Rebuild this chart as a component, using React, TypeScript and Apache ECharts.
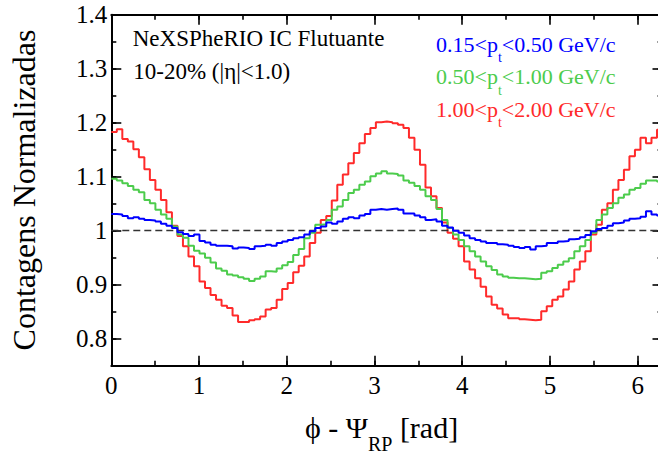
import React, { useEffect, useRef } from 'react';
import * as echarts from 'echarts';

const SERIF = 'Liberation Serif, DejaVu Serif, serif';

const BIN_COUNT = 100;
const PHI_MAX = 2 * Math.PI;
const binEdges = Array.from({ length: BIN_COUNT + 1 }, (_, i) => (i * PHI_MAX) / BIN_COUNT);

const xTickLabels = ['0', '1', '2', '3', '4', '5', '6'];
const yTickLabels = ['0.8', '0.9', '1', '1.1', '1.2', '1.3', '1.4'];

// 1.00 < pt < 2.00 GeV/c
const redValues = [
  1.183, 1.188, 1.170, 1.165, 1.151, 1.136, 1.114, 1.094, 1.076, 1.057,
  1.034, 1.009, 0.990, 0.971, 0.952, 0.934, 0.906, 0.894, 0.881, 0.872,
  0.861, 0.857, 0.843, 0.831, 0.831, 0.834, 0.836, 0.841, 0.854, 0.857,
  0.872, 0.892, 0.903, 0.923, 0.935, 0.952, 0.977, 0.996, 1.020, 1.027,
  1.056, 1.085, 1.104, 1.125, 1.144, 1.162, 1.179, 1.190, 1.201, 1.202,
  1.201, 1.199, 1.196, 1.190, 1.172, 1.150, 1.122, 1.080, 1.064, 1.042,
  1.015, 0.996, 0.985, 0.971, 0.943, 0.928, 0.912, 0.896, 0.878, 0.863,
  0.856, 0.845, 0.838, 0.838, 0.836, 0.835, 0.834, 0.835, 0.851, 0.860,
  0.872, 0.878, 0.891, 0.906, 0.928, 0.943, 0.962, 0.993, 1.011, 1.039,
  1.051, 1.076, 1.094, 1.113, 1.138, 1.150, 1.172, 1.162, 1.172, 1.187,
];

// 0.50 < pt < 1.00 GeV/c
const greenValues = [
  1.096, 1.093, 1.088, 1.083, 1.076, 1.071, 1.057, 1.051, 1.039, 1.030,
  1.022, 1.008, 0.993, 0.987, 0.972, 0.963, 0.958, 0.950, 0.941, 0.930,
  0.926, 0.919, 0.917, 0.914, 0.911, 0.907, 0.911, 0.915, 0.925, 0.924,
  0.930, 0.936, 0.942, 0.955, 0.966, 0.986, 0.996, 1.011, 1.012, 1.020,
  1.039, 1.045, 1.057, 1.070, 1.076, 1.085, 1.091, 1.101, 1.106, 1.110,
  1.106, 1.105, 1.102, 1.093, 1.089, 1.083, 1.076, 1.064, 1.057, 1.040,
  1.020, 1.005, 0.993, 0.983, 0.971, 0.962, 0.952, 0.943, 0.934, 0.927,
  0.919, 0.915, 0.913, 0.912, 0.912, 0.911, 0.910, 0.911, 0.922, 0.925,
  0.931, 0.937, 0.943, 0.949, 0.962, 0.971, 0.983, 0.996, 1.020, 1.030,
  1.042, 1.051, 1.061, 1.067, 1.076, 1.079, 1.087, 1.093, 1.093, 1.091,
];

// 0.15 < pt < 0.50 GeV/c
const blueValues = [
  1.031, 1.030, 1.027, 1.023, 1.025, 1.022, 1.020, 1.019, 1.017, 1.013,
  1.009, 1.005, 0.997, 0.994, 0.990, 0.993, 0.981, 0.978, 0.974, 0.972,
  0.972, 0.971, 0.967, 0.969, 0.968, 0.966, 0.971, 0.972, 0.974, 0.972,
  0.977, 0.980, 0.983, 0.986, 0.988, 0.993, 0.999, 1.005, 1.008, 1.015,
  1.013, 1.017, 1.022, 1.025, 1.023, 1.028, 1.031, 1.039, 1.040, 1.039,
  1.040, 1.041, 1.039, 1.032, 1.032, 1.028, 1.025, 1.020, 1.021, 1.017,
  1.009, 1.006, 1.000, 0.996, 0.991, 0.986, 0.983, 0.980, 0.977, 0.977,
  0.975, 0.974, 0.972, 0.970, 0.968, 0.970, 0.965, 0.971, 0.972, 0.977,
  0.977, 0.980, 0.981, 0.984, 0.985, 0.988, 0.992, 0.999, 1.003, 1.005,
  1.009, 1.014, 1.015, 1.019, 1.022, 1.023, 1.026, 1.036, 1.030, 1.028,
];

const seriesNames = ['1.00<pt<2.00', '0.50<pt<1.00', '0.15<pt<0.50'];
const seriesColors = ['#ff2a2a', '#4ccc4c', '#0000ff'];
const legendLo = ['0.15', '0.50', '1.00'];
const legendHi = ['0.50', '1.00', '2.00'];
const legendColors = ['#0000ff', '#4ccc4c', '#ff2a2a'];

const toStep = (vals: number[]) => [
  ...vals.map((v, i) => [binEdges[i], v]),
  [binEdges[BIN_COUNT], vals[vals.length - 1]],
];

const axisLineStyle = { color: '#000', width: 2 };
const tickStyle = { color: '#000', width: 1.6 };

function xAxisDef(position: 'bottom' | 'top', major: boolean) {
  return {
    type: 'value',
    position,
    min: 0,
    max: PHI_MAX,
    interval: major ? 1 : 0.5,
    axisLine: { show: major, onZero: false, lineStyle: axisLineStyle },
    axisTick: { show: true, inside: true, length: major ? 10 : 5, lineStyle: tickStyle },
    axisLabel: {
      show: major && position === 'bottom',
      margin: 7,
      fontSize: 25,
      fontFamily: SERIF,
      color: '#000',
      showMaxLabel: false,
      formatter: (v: number) => (xTickLabels.includes(String(v)) ? String(v) : ''),
    },
    splitLine: { show: false },
  };
}

function yAxisDef(position: 'left' | 'right', major: boolean) {
  const base: any = {
    type: 'value',
    position,
    min: 0.75,
    max: 1.4,
    axisLine: { show: major, onZero: false, lineStyle: axisLineStyle },
    axisTick: { show: true, inside: true, length: major ? 10 : 5, lineStyle: tickStyle },
    axisLabel: {
      show: major && position === 'left',
      margin: 4,
      fontSize: 25,
      fontFamily: SERIF,
      color: '#000',
      formatter: (v: number) => {
        const s = String(Math.round(v * 100) / 100);
        return yTickLabels.includes(s) ? s : '';
      },
    },
    splitLine: { show: false },
  };
  if (major) {
    base.splitNumber = 6;
    base.minInterval = 0.1;
    base.maxInterval = 0.1;
  } else {
    base.interval = 0.05;
  }
  return base;
}

function legendText(i: number, y: number) {
  const c = legendColors[i];
  return {
    type: 'text',
    x: 436,
    y,
    style: {
      text: `{n|${legendLo[i]}<p}{s|t}{n|<${legendHi[i]} GeV/c}`,
      align: 'left',
      textAlign: 'left',
      verticalAlign: 'middle',
      textVerticalAlign: 'middle',
      rich: {
        n: { fontSize: 22, fontFamily: SERIF, color: c, fill: c, verticalAlign: 'middle' },
        s: { fontSize: 14, fontFamily: SERIF, color: c, fill: c, padding: [27, 0, 0, 0], verticalAlign: 'middle' },
      },
    },
  };
}

export default function App() {
  const ref = useRef<HTMLDivElement>(null);

  useEffect(() => {
    if (!ref.current) return;
    const chart = echarts.init(ref.current, undefined, { renderer: 'svg' });
    const option: any = {
      animation: false,
      backgroundColor: '#fff',
      textStyle: { fontFamily: SERIF },
      grid: { left: 111.3, top: 14.7, right: 1.5, bottom: 91.3, containLabel: false },
      xAxis: [
        xAxisDef('bottom', true),
        xAxisDef('bottom', false),
        xAxisDef('top', true),
        xAxisDef('top', false),
      ],
      yAxis: [
        yAxisDef('left', true),
        yAxisDef('left', false),
        yAxisDef('right', true),
        yAxisDef('right', false),
      ],
      series: [redValues, greenValues, blueValues].map((vals, k) => ({
        name: seriesNames[k],
        type: 'line',
        xAxisIndex: 0,
        yAxisIndex: 0,
        step: 'end',
        symbol: 'none',
        data: toStep(vals),
        lineStyle: { color: seriesColors[k], width: 2 },
        itemStyle: { color: seriesColors[k] },
        z: 3 + k,
        markLine:
          k === 0
            ? {
                silent: true,
                symbol: ['none', 'none'],
                label: { show: false },
                lineStyle: { type: [7, 4], color: '#333', width: 1.3 },
                data: [{ yAxis: 1 }],
              }
            : undefined,
      })),
      graphic: [
        {
          type: 'text',
          x: 24.2,
          y: 190,
          rotation: Math.PI / 2,
          style: {
            text: 'Contagens Normalizadas',
            fontSize: 32,
            fontFamily: SERIF,
            fill: '#000',
            align: 'center',
            textAlign: 'center',
            verticalAlign: 'middle',
            textVerticalAlign: 'middle',
          },
        },
        {
          type: 'text',
          x: 305,
          y: 427.9,
          style: {
            text: '{m|ϕ - Ψ}{s|RP}{m| [rad]}',
            align: 'left',
            textAlign: 'left',
            verticalAlign: 'middle',
            textVerticalAlign: 'middle',
            rich: {
              m: { fontSize: 30, fontFamily: SERIF, color: '#000', fill: '#000', verticalAlign: 'middle' },
              s: { fontSize: 20, fontFamily: SERIF, color: '#000', fill: '#000', padding: [32, 0, 0, 0], verticalAlign: 'middle' },
            },
          },
        },
        {
          type: 'text',
          x: 132.7,
          y: 38.9,
          style: {
            text: 'NeXSPheRIO IC Flutuante',
            fontSize: 23,
            fontFamily: SERIF,
            fill: '#000',
            align: 'left',
            textAlign: 'left',
            verticalAlign: 'middle',
            textVerticalAlign: 'middle',
          },
        },
        {
          type: 'text',
          x: 133.3,
          y: 71.2,
          style: {
            text: '10-20% (|η|<1.0)',
            fontSize: 23,
            fontFamily: SERIF,
            fill: '#000',
            align: 'left',
            textAlign: 'left',
            verticalAlign: 'middle',
            textVerticalAlign: 'middle',
          },
        },
        legendText(0, 44.3),
        legendText(1, 76.6),
        legendText(2, 109.3),
      ],
    };
    chart.setOption(option);
    return () => chart.dispose();
  }, []);

  return (
    <div
      style={{
        position: 'fixed',
        left: 0,
        top: 0,
        width: 658,
        height: 457,
        overflow: 'hidden',
        background: '#fff',
      }}
    >
      <div ref={ref} style={{ width: 664, height: 457 }} />
    </div>
  );
}
